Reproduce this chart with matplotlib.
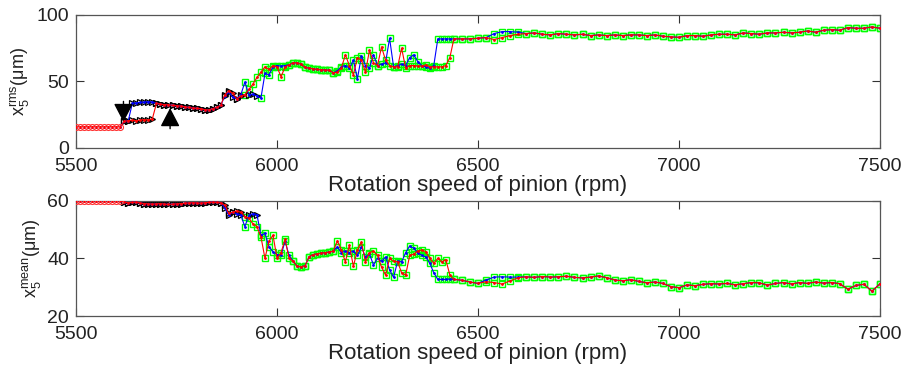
import numpy as np
import matplotlib
matplotlib.use('Agg')
import matplotlib.pyplot as plt

plt.rcParams['font.family'] = ['Liberation Sans', 'DejaVu Sans']
plt.rcParams['mathtext.fontset'] = 'custom'
plt.rcParams['mathtext.rm'] = 'Liberation Sans'


# speed grid: 10 rpm steps up to 6440, 20 rpm steps after
rpm = np.r_[np.arange(5500, 6450, 10), np.arange(6460, 7510, 20)]

# x5 rms, sweep up (red) / sweep down (blue)
rms_up = [
    16, 16, 16, 16, 16, 16, 16, 16, 16, 16, 16, 16,
    20, 20.5, 20.8, 20.5, 21, 21.3, 21, 22, 33.5,
    33, 32.5, 32.5, 32, 31.8, 31.5, 31, 30.5, 30, 29.8, 29.5, 28.8, 28.6, 29.5, 30.6, 32,
    40, 43, 41, 37, 39, 40, 44, 48, 53, 57, 61, 59, 62, 61, 53.5, 61, 62.5, 64, 64, 63, 60.5, 60, 59.5,
    59, 58.8, 58.6, 58.5, 56.5, 57, 60, 70, 62, 55,
    68, 66, 57, 73.5, 64, 62, 76, 66, 62, 61,
    61, 75, 60, 62, 62, 61.5, 61.5, 62.5, 61, 61,
    61, 61, 62, 68, 82,
    82, 82, 82.5, 83, 81.5, 83, 84.5, 85.5, 86, 86.5,
    85.5, 85, 86, 85.5, 85, 85.5, 84.5, 85, 84.5, 85,
    84.5, 85, 85, 84.5, 85, 84, 83.5, 83.2, 84.5, 84.5,
    84, 85, 85.5, 85.5, 85, 86.5, 86, 85.5, 86.5, 86.5,
    87, 86.5, 87, 88, 87, 88.5, 89, 88.5, 90.5, 90,
    90, 91, 90,
]
rms_down = [
    16, 16, 16, 16, 16, 16, 16, 16, 16, 16, 16, 16,
    20, 20.5, 33.5, 34, 34.2, 34.5, 34.8, 34.5, 33.5,
    33, 32.5, 32.5, 32, 31.8, 31.5, 31, 30.5, 30, 29.8, 29.5, 28.8, 28.6, 29.5, 30.6, 32,
    39, 42, 38, 37, 40, 49.5, 40, 40.5, 39, 37.5, 56, 55, 61, 62, 61.5, 62, 62.5, 64, 64, 63, 60.5, 60, 59.5,
    59, 58.8, 58.6, 58.5, 56.5, 58, 61, 62, 60, 66,
    52, 69, 62, 60, 70, 62, 63, 64, 82.5, 61,
    62, 63, 62, 68, 70, 65, 62, 61, 60, 62,
    82, 82, 82, 82, 82,
    82, 82, 82.5, 83, 86, 87.5, 87.5, 87, 86, 86.5,
    85.5, 85, 86, 85.5, 85, 85.5, 84.5, 85, 84.5, 85,
    84.5, 85, 85, 84.5, 85, 84, 83.5, 83.2, 84.5, 84.5,
    84, 85, 85.5, 85.5, 85, 86.5, 86, 85.5, 86.5, 86.5,
    87, 86.5, 87, 88, 87, 88.5, 89, 88.5, 90.5, 90,
    90, 91, 90,
]

# x5 mean, sweep up (red) / sweep down (blue)
mean_up = [
    60, 60, 60, 60, 60, 60, 60, 60, 60, 60, 60, 60,
    59.5, 59.3, 59.4, 59.5, 59.2, 59.0, 58.9, 58.8, 58.9, 59.0, 58.8, 58.7, 58.8,
    58.9, 59.0, 59.1, 59.2, 59.3, 59.2, 59.1, 59.3, 59.4, 59.5, 59.4, 59.3,
    58.5, 55.6, 56, 56.5, 56, 54.5, 53.9, 52, 51, 47.5, 40, 46, 48, 40, 42, 46.6, 40, 39, 37.2, 37.1, 37.5, 40.6, 41.3,
    41.6, 41.8, 42, 42.2, 42.5, 46, 43, 38.8, 44.6, 37.2,
    43, 45.6, 38.8, 42, 42.5, 41, 37, 34.2, 40, 39,
    38.8, 35, 34.2, 41, 41.5, 42.5, 43, 42.3, 40, 38.3,
    40, 38.8, 39.5, 34.2, 32.7,
    32.4, 31.8, 31.3, 31.9, 31.6, 31.1, 32.2, 33.3, 33.6, 33.4,
    33.7, 33.5, 33.6, 33.8, 33.4, 33.2, 33.5, 33.9, 33.3, 32.5,
    32.2, 32.6, 32, 31.5, 31.8, 31.3, 30.2, 29.8, 30.8, 30.5,
    31, 31.2, 31.1, 31.3, 30.8, 31.2, 31.6, 31.5, 30.7, 31.3,
    31.6, 31.1, 31.6, 31.3, 31.8, 31.4, 31.6, 31.2, 29.3, 30.6,
    31, 28.6, 31.2,
]
mean_down = [
    60, 60, 60, 60, 60, 60, 60, 60, 60, 60, 60, 60,
    59.5, 59.3, 59.4, 59.5, 59.2, 59.0, 58.9, 58.8, 58.9, 59.0, 58.8, 58.7, 58.8,
    58.9, 59.0, 59.1, 59.2, 59.3, 59.2, 59.1, 59.3, 59.4, 59.5, 59.4, 59.3,
    57.5, 55, 56, 55.5, 55, 51, 55, 55.5, 55.2, 48, 48.7, 44, 42.3, 41.3, 41, 46, 41, 39, 37.2, 37.1, 37.5, 40.6, 41.3,
    41.6, 41.8, 42, 42.2, 42.5, 44, 42, 42.5, 42, 42.5,
    41, 44, 40.5, 41.5, 37.7, 40, 39, 40.5, 36, 33.4,
    39, 38.8, 42, 44.3, 43.5, 42, 41, 40.5, 38.3, 35,
    32.7, 32.7, 32.7, 32.8, 32.7,
    32.4, 31.8, 31.3, 32.5, 33.5, 33.6, 33.5, 33.5, 33.6, 33.4,
    33.7, 33.5, 33.6, 33.8, 33.4, 33.2, 33.5, 33.9, 33.3, 32.5,
    32.2, 32.6, 32, 31.5, 31.8, 31.3, 30.2, 29.8, 30.8, 30.5,
    31, 31.2, 31.1, 31.3, 30.8, 31.2, 31.6, 31.5, 30.7, 31.3,
    31.6, 31.1, 31.6, 31.3, 31.8, 31.4, 31.6, 31.2, 29.3, 30.6,
    31, 28.6, 31.2,
]

# regime limits (rpm) used for the markers
up_periodic_end = 5610
up_quasi_end = 5910
down_quasi_end = 5950
down_chaos_extra = [5920]


def draw_panel(ax, up, down, ylim, yticks, ylabel):
    up = np.array(up, dtype=float)
    down = np.array(down, dtype=float)

    up_circ = rpm <= up_periodic_end
    up_tri = (rpm > up_periodic_end) & (rpm <= up_quasi_end)
    up_sq = rpm > up_quasi_end
    dn_sq = (rpm > down_quasi_end) | np.isin(rpm, down_chaos_extra)
    dn_tri = (rpm > up_periodic_end) & ~dn_sq

    sq = dict(ls='none', marker='s', ms=4.6, mfc='none', mec='#00ff00', mew=1.0, zorder=2)
    tri = dict(ls='none', marker='>', ms=4.5, mfc='none', mec='black', mew=0.9, zorder=2)
    ax.plot(rpm[up_sq], up[up_sq], **sq)
    ax.plot(rpm[dn_sq], down[dn_sq], **sq)
    ax.plot(rpm[up_tri], up[up_tri], **tri)
    ax.plot(rpm[dn_tri], down[dn_tri], **tri)

    ax.plot(rpm, down, '-', color='#0000ff', lw=0.8, marker='.', ms=2, zorder=3)
    ax.plot(rpm, up, '-', color='#ff0000', lw=0.8, marker='.', ms=2, zorder=4)
    ax.plot(rpm[up_circ], up[up_circ], ls='none', marker='o', ms=4.3,
            mfc='none', mec='#ff3333', mew=0.8, zorder=5)

    ax.set_xlim(5500, 7500)
    ax.set_ylim(*ylim)
    ax.set_xticks([5500, 6000, 6500, 7000, 7500])
    ax.set_yticks(yticks)
    ax.tick_params(direction='in', top=True, right=True, length=6, width=0.8,
                   labelsize=14, colors='#333333', labelcolor='#222222')
    ax.tick_params(axis='x', pad=7.5)
    ax.tick_params(axis='y', pad=5)
    for s in ax.spines.values():
        s.set_color('#555555')
        s.set_linewidth(0.9)
    ax.set_xlabel('Rotation speed of pinion (rpm)', fontsize=16, color='#222222', labelpad=0)
    ax.set_ylabel(ylabel, fontsize=13, color='#222222', labelpad=3)


fig = plt.figure(figsize=(9.03, 3.68), dpi=100)
ax1 = fig.add_axes([0.0842, 0.598, 0.8903, 0.3613])
ax2 = fig.add_axes([0.0842, 0.1413, 0.8903, 0.3133])

draw_panel(ax1, rms_up, rms_down, (0, 100), [0, 50, 100],
           r'$\mathregular{x_5^{rms}}$($\mathregular{\mu}$m)')
draw_panel(ax2, mean_up, mean_down, (20, 60), [20, 40, 60],
           r'$\mathregular{x_5^{mean}}$($\mathregular{\mu}$m)')

# jump arrows (hysteresis)
arrow = dict(arrowstyle='-|>,head_width=0.6,head_length=1.15', mutation_scale=10,
             color='black', lw=1.0, shrinkA=0, shrinkB=0)
ax1.annotate('', xy=(5618, 19.5), xytext=(5618, 35), arrowprops=arrow)
ax1.annotate('', xy=(5734, 30), xytext=(5734, 14.5), arrowprops=arrow)

fig.savefig('out.png', dpi=100)
